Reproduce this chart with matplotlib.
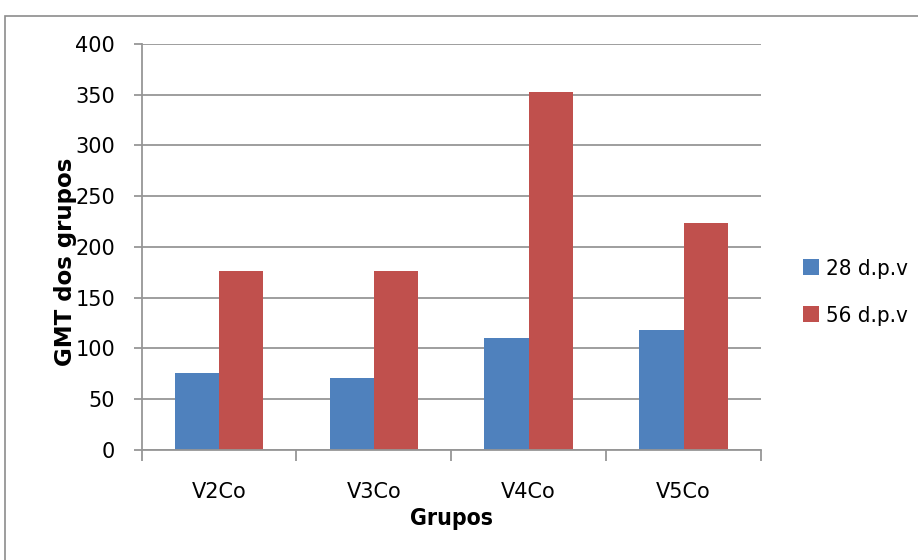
import matplotlib
matplotlib.use('Agg')
import matplotlib.pyplot as plt
from matplotlib.patches import Rectangle
import numpy as np

grupos = ['V2Co', 'V3Co', 'V4Co', 'V5Co']
dpv28 = [76, 70.5, 110, 118]
dpv56 = [176, 176, 352.5, 224]
series_names = ['28 d.p.v', '56 d.p.v']

plt.rcParams['font.family'] = ['DejaVu Sans']

fig = plt.figure(figsize=(9.18, 5.6), dpi=100)
ax = fig.add_axes([141.5 / 918, 1 - 449.7 / 560, (761 - 141.5) / 918, (449.7 - 44) / 560])

# frame around the whole chart
fig.patches.append(Rectangle((5 / 918, -0.1), 1.2, (560 - 16) / 560 + 0.1,
                             transform=fig.transFigure, fill=False,
                             edgecolor='#8c8c8c', linewidth=1.2))

x = np.arange(len(grupos))
w = 1 / 3.5
ax.bar(x - w / 2, dpv28, w, color='#4F81BD', label=series_names[0])
ax.bar(x + w / 2, dpv56, w, color='#C0504D', label=series_names[1])

ax.set_xlim(-0.5, len(grupos) - 0.5)
ax.set_ylim(0, 400)
ax.set_yticks(range(0, 401, 50))
ax.yaxis.grid(True, color='#969696', linewidth=1.3)
ax.set_axisbelow(True)

ax.set_xticks(x)
ax.set_xticklabels(grupos, fontsize=15)
ax.set_xticks(np.arange(-0.5, len(grupos), 1), minor=True)
ax.tick_params(axis='x', which='major', length=0, pad=23)
ax.tick_params(axis='x', which='minor', length=8, color='#969696', width=1.3)
ax.tick_params(axis='y', length=6, color='#969696', width=1.3, labelsize=15, pad=13)

for s in ['top', 'right']:
    ax.spines[s].set_visible(False)
for s in ['left', 'bottom']:
    ax.spines[s].set_color('#969696')
    ax.spines[s].set_linewidth(1.3)

ax.set_xlabel('Grupos', fontsize=16.5, fontweight='bold', fontstretch='condensed',
              labelpad=4)
ax.set_ylabel('GMT dos grupos', fontsize=16.5, fontweight='bold')
ax.yaxis.set_label_coords(-0.104, 0.463)

leg = ax.legend(loc='center left', bbox_to_anchor=(1.036, 0.3875), frameon=False,
                fontsize=16, handlelength=0.72, handleheight=0.72, handletextpad=0.3,
                labelspacing=1.2)
for t in leg.get_texts():
    t.set_fontstretch('condensed')

fig.savefig('out.png', dpi=100)
